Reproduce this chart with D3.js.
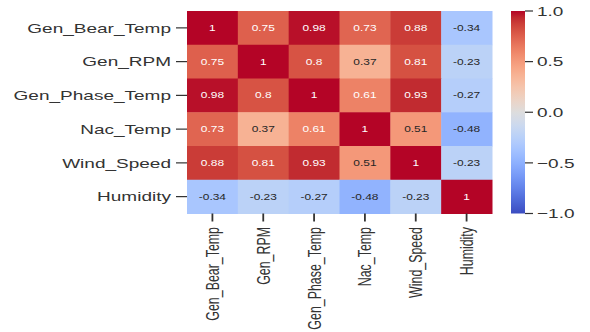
<!DOCTYPE html>
<html>
<head>
<meta charset="utf-8">
<script src="https://cdn.jsdelivr.net/npm/d3@7"></script>
<style>
  html, body { margin: 0; padding: 0; background: #fff; }
  svg { display: block; }
  text { font-family: "Liberation Sans", Arial, sans-serif; fill: #333; }
</style>
</head>
<body>
<svg id="chart" width="590" height="332"></svg>
<script>
// ---- data ----
const variables = ["Gen_Bear_Temp", "Gen_RPM", "Gen_Phase_Temp", "Nac_Temp", "Wind_Speed", "Humidity"];
const rowGenBearTemp  = [1, 0.75, 0.98, 0.73, 0.88, -0.34];
const rowGenRPM       = [0.75, 1, 0.8, 0.37, 0.81, -0.23];
const rowGenPhaseTemp = [0.98, 0.8, 1, 0.61, 0.93, -0.27];
const rowNacTemp      = [0.73, 0.37, 0.61, 1, 0.51, -0.48];
const rowWindSpeed    = [0.88, 0.81, 0.93, 0.51, 1, -0.23];
const rowHumidity     = [-0.34, -0.23, -0.27, -0.48, -0.23, 1];
const corrRows = [rowGenBearTemp, rowGenRPM, rowGenPhaseTemp, rowNacTemp, rowWindSpeed, rowHumidity];
const colorbarTicks = [1.0, 0.5, 0.0, -0.5, -1.0];

// ---- coolwarm colormap (Moreland) ----
const coolwarmStops = [
  [59,76,192],[68,90,204],[77,104,215],[87,117,225],[98,130,234],[108,142,241],[119,154,247],[130,165,251],
  [141,176,254],[152,185,255],[163,194,255],[174,201,253],[184,208,249],[194,213,244],[204,217,238],[213,219,230],
  [221,221,221],[229,216,209],[236,211,197],[241,204,184],[245,196,172],[247,187,159],[247,177,147],[247,166,134],
  [244,154,123],[241,141,111],[236,127,99],[229,112,89],[222,96,77],[213,80,66],[203,62,56],[192,40,47],[180,4,38]
].map(c => d3.rgb(c[0], c[1], c[2]).toString());
const coolwarm = d3.piecewise(d3.interpolateRgb, coolwarmStops);
const color = d3.scaleSequential(coolwarm).domain([-1, 1]);

// ---- layout ----
const SX = 1.44; // horizontal stretch of the reference image text
const heat = { left: 187, right: 492, top: 11, bottom: 213.5 };
const cbar = { left: 511, right: 525 };

const svg = d3.select("#chart");

const x = d3.scaleBand().domain(variables).range([heat.left, heat.right]);
const y = d3.scaleBand().domain(variables).range([heat.top, heat.bottom]);

const cells = [];
corrRows.forEach((row, i) => row.forEach((v, j) => cells.push({ r: variables[i], c: variables[j], v })));

svg.append("g").selectAll("rect").data(cells).join("rect")
  .attr("x", d => x(d.c)).attr("y", d => y(d.r))
  .attr("width", x.bandwidth() + 0.5).attr("height", y.bandwidth() + 0.5)
  .attr("fill", d => color(d.v));

function lum(c) {
  const rgb = d3.rgb(c);
  const f = u => { u /= 255; return u <= 0.03928 ? u / 12.92 : Math.pow((u + 0.055) / 1.055, 2.4); };
  return 0.2126 * f(rgb.r) + 0.7152 * f(rgb.g) + 0.0722 * f(rgb.b);
}
const fmt = v => (Number.isInteger(v) ? String(v) : String(+v.toPrecision(2)));

svg.append("g").selectAll("text").data(cells).join("text")
  .attr("transform", d => `translate(${x(d.c) + x.bandwidth() / 2},${y(d.r) + y.bandwidth() / 2}) scale(${SX},1)`)
  .attr("text-anchor", "middle").attr("dy", "0.35em")
  .style("font-size", "8.3px")
  .style("fill", d => lum(color(d.v)) > 0.408 ? "#262626" : "#ffffff")
  .text(d => fmt(d.v));

// y axis ticks + labels
const yAx = svg.append("g");
yAx.selectAll("line").data(variables).join("line")
  .attr("x1", heat.left - 11).attr("x2", heat.left)
  .attr("y1", d => y(d) + y.bandwidth() / 2).attr("y2", d => y(d) + y.bandwidth() / 2)
  .attr("stroke", "#333").attr("stroke-width", 1.2);
yAx.selectAll("text").data(variables).join("text")
  .attr("transform", d => `translate(${heat.left - 16},${y(d) + y.bandwidth() / 2}) scale(${SX},1)`)
  .attr("text-anchor", "end").attr("dy", "0.36em")
  .style("font-size", "13.2px")
  .text(d => d);

// x axis ticks + labels
const xAx = svg.append("g");
xAx.selectAll("line").data(variables).join("line")
  .attr("x1", d => x(d) + x.bandwidth() / 2).attr("x2", d => x(d) + x.bandwidth() / 2)
  .attr("y1", heat.bottom).attr("y2", heat.bottom + 8)
  .attr("stroke", "#333").attr("stroke-width", 1.8);
xAx.selectAll("text").data(variables).join("text")
  .attr("transform", d => `translate(${x(d) + x.bandwidth() / 2},${heat.bottom + 13.5}) rotate(-90) scale(1,${SX})`)
  .attr("text-anchor", "end").attr("dy", "0.36em")
  .style("font-size", "12.4px")
  .text(d => d);

// colorbar
const cy = d3.scaleLinear().domain([-1, 1]).range([heat.bottom, heat.top]);
const defs = svg.append("defs");
const grad = defs.append("linearGradient").attr("id", "cbgrad")
  .attr("x1", 0).attr("y1", 1).attr("x2", 0).attr("y2", 0);
grad.selectAll("stop").data(coolwarmStops).join("stop")
  .attr("offset", (d, i) => i / (coolwarmStops.length - 1))
  .attr("stop-color", d => d);
svg.append("rect")
  .attr("x", cbar.left).attr("y", cy(1))
  .attr("width", cbar.right - cbar.left).attr("height", cy(-1) - cy(1))
  .attr("fill", "url(#cbgrad)");
const cAx = svg.append("g");
cAx.selectAll("line").data(colorbarTicks).join("line")
  .attr("x1", cbar.right).attr("x2", cbar.right + 8)
  .attr("y1", d => cy(d)).attr("y2", d => cy(d))
  .attr("stroke", "#333").attr("stroke-width", 1.2);
cAx.selectAll("text").data(colorbarTicks).join("text")
  .attr("transform", d => `translate(${cbar.right + 12},${cy(d)}) scale(${SX},1)`)
  .attr("text-anchor", "start").attr("dy", "0.36em")
  .style("font-size", "13.2px")
  .text(d => d3.format(".1f")(d).replace("-", "\u2212"));
</script>
</body>
</html>
